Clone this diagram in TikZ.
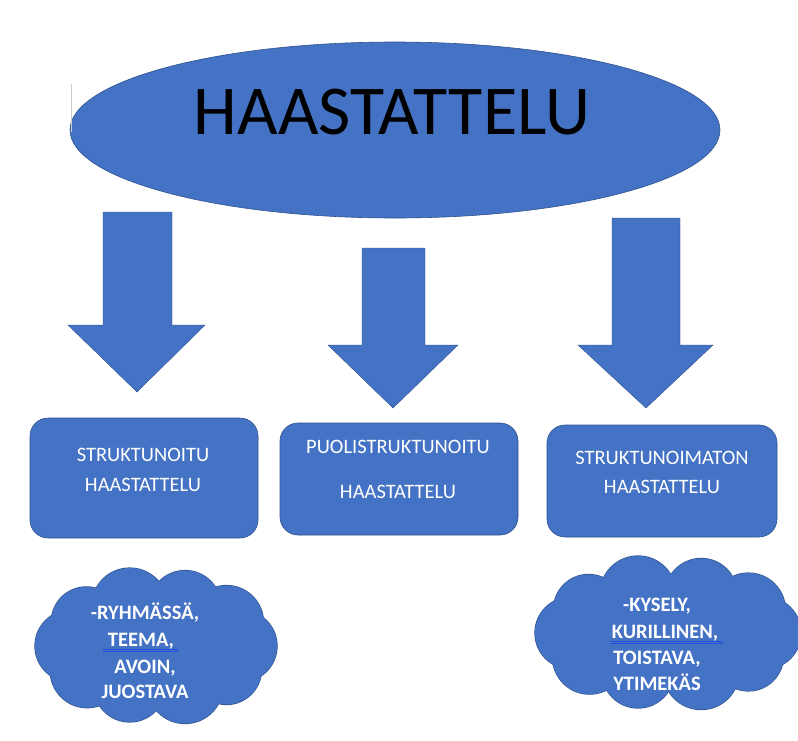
\documentclass[tikz,border=0pt]{standalone}
\usepackage{fontspec}
\setmainfont{Carlito}
\usetikzlibrary{shapes.geometric}
\definecolor{fillblue}{HTML}{4472C4}
\definecolor{edgeblue}{HTML}{2F528F}
\definecolor{ulblue}{HTML}{1F4FE0}
\tikzset{
  blockarrow/.style={fill=fillblue, draw=edgeblue, line width=0.4pt},
  boxshape/.style={rectangle, rounded corners=18pt, fill=fillblue, draw=edgeblue, line width=0.6pt, inner sep=0pt},
  boxtext/.style={anchor=base, text=white, font=\fontsize{20.5}{24}\selectfont, inner sep=0pt},
  cloudtext/.style={anchor=base, text=white, font=\bfseries\fontsize{20.5}{24}\selectfont, inner sep=0pt},
  ulline/.style={draw=ulblue, line width=0.8pt}
}
% cloud: #1 cx, #2 cy, #3 a, #4 b
\newcommand{\mycloud}[4]{%
  \foreach \t/\r in {0/36,34/35,70/38,108/36,144/37,180/36,215/35,252/38,290/36,326/37}
    \draw[edgeblue, line width=1.3pt] ({#1+#3*cos(\t)},{#2+#4*sin(\t)}) circle[radius=\r];
  \foreach \t/\r in {0/36,34/35,70/38,108/36,144/37,180/36,215/35,252/38,290/36,326/37}
    \fill[fillblue] ({#1+#3*cos(\t)},{#2+#4*sin(\t)}) circle[radius=\r];
  \fill[fillblue] (#1,#2) ellipse[x radius=#3, y radius=#4];
}
\begin{document}
\begin{tikzpicture}[x=1pt, y=-1pt]
\useasboundingbox (0,0) rectangle (798,740);
\fill[white] (0,0) rectangle (798,740);
% title ellipse
\node[ellipse, fill=fillblue, draw=edgeblue, line width=0.6pt, minimum width=650pt, minimum height=176pt, inner sep=0pt] (title) at (395,130) {};
\draw[gray!40, line width=0.8pt] (71,84) -- (71,132);
\node[anchor=base, text=black, font=\fontsize{70}{80}\selectfont, inner sep=0pt] (titletext) at (392,134.5) {HAASTATTELU};
% block arrows
\path[blockarrow] (103,212) -- (172,212) -- (172,325) -- (205,325) -- (137,392) -- (68,325) -- (103,325) -- cycle;
\path[blockarrow] (362,248) -- (425,248) -- (425,345) -- (458,345) -- (393,408) -- (328,345) -- (362,345) -- cycle;
\path[blockarrow] (612,218) -- (680,218) -- (680,345) -- (713,345) -- (646,408) -- (578,345) -- (612,345) -- cycle;
% boxes
\node[boxshape, minimum width=228pt, minimum height=120pt] (boxL) at (144,478) {};
\node[boxshape, minimum width=238pt, minimum height=112pt] (boxM) at (399,479) {};
\node[boxshape, minimum width=230pt, minimum height=112pt] (boxR) at (662,481) {};
\node[boxtext] (boxLa) at (143,461.5) {STRUKTUNOITU};
\node[boxtext] (boxLb) at (143,491.5) {HAASTATTELU};
\node[boxtext] (boxMa) at (398,453.5) {PUOLISTRUKTUNOITU};
\node[boxtext] (boxMb) at (398,498.5) {HAASTATTELU};
\node[boxtext] (boxRa) at (662,464.5) {STRUKTUNOIMATON};
\node[boxtext] (boxRb) at (662,493.5) {HAASTATTELU};
% clouds
\mycloud{156}{646}{85}{42}
\mycloud{668}{633}{97}{41}
\node[cloudtext] (cl1) at (145,619.5) {-RYHMÄSSÄ,};
\node[cloudtext] (cl2) at (141,646.5) {TEEMA,};
\node[cloudtext] (cl3) at (145,673.5) {AVOIN,};
\node[cloudtext] (cl4) at (145,698.5) {JUOSTAVA};
\draw[ulline] (103,649.5) -- (178,649.5);
\draw[ulline] (103,651.5) -- (178,651.5);
\node[cloudtext] (cr1) at (657,611.5) {-KYSELY,};
\node[cloudtext] (cr2) at (665,638.5) {KURILLINEN,};
\node[cloudtext] (cr3) at (657,664.5) {TOISTAVA,};
\node[cloudtext] (cr4) at (657,690.5) {YTIMEKÄS};
\draw[ulline] (611,641.5) -- (723,641.5);
\draw[ulline] (611,643.5) -- (723,643.5);
\end{tikzpicture}
\end{document}
